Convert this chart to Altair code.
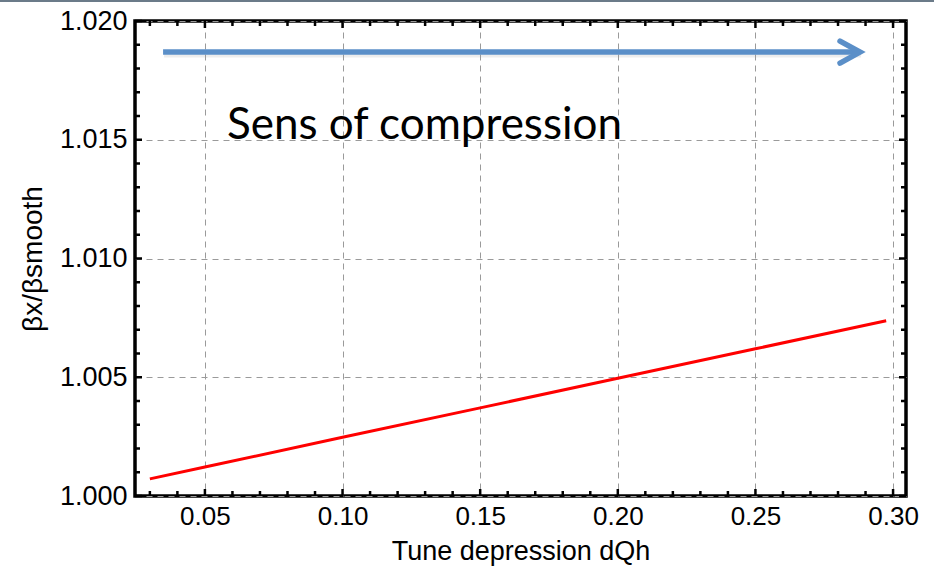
import altair as alt
import pandas as pd

# ---- data ----
dqh = [0.03, 0.05, 0.10, 0.15, 0.20, 0.25, 0.2975]
beta_ratio = [1.00072, 1.00122, 1.00247, 1.00371, 1.00496, 1.00620, 1.00738]

x_domain = [0.0246, 0.3047]
y_domain = [1.000, 1.020]

x_major = [0.05, 0.10, 0.15, 0.20, 0.25, 0.30]
x_minor = [0.03, 0.04, 0.06, 0.07, 0.08, 0.09, 0.11, 0.12, 0.13, 0.14,
           0.16, 0.17, 0.18, 0.19, 0.21, 0.22, 0.23, 0.24, 0.26, 0.27,
           0.28, 0.29]
y_major = [1.000, 1.005, 1.010, 1.015, 1.020]
y_minor = [1.001, 1.002, 1.003, 1.004, 1.006, 1.007, 1.008, 1.009,
           1.011, 1.012, 1.013, 1.014, 1.016, 1.017, 1.018, 1.019]

arrow_x = [0.0348, 0.2880]
arrow_y = [1.01869, 1.01869]

label_text = ["Sens of compression"]
label_x = [0.0580]
label_y = [1.01505]

W, H = 771, 475

# ---- shared scales / axes ----
xs = alt.Scale(domain=x_domain, nice=False, zero=False)
ys = alt.Scale(domain=y_domain, nice=False, zero=False)
xaxis = alt.Axis(values=x_major, format=".2f", grid=True, gridDash=[6, 5],
                 gridColor="#9a9a9a", gridWidth=1, ticks=False, domain=False,
                 labelPadding=7, titlePadding=9)
yaxis = alt.Axis(values=y_major, format=".3f", grid=True, gridDash=[6, 5],
                 gridColor="#9a9a9a", gridWidth=1, ticks=False, domain=False,
                 labelPadding=8, titlePadding=12)
XT = "Tune depression dQh"
YT = "βx/βsmooth"


def X(f):
    return alt.X(f, type="quantitative", scale=xs, axis=xaxis, title=XT)


def Y(f):
    return alt.Y(f, type="quantitative", scale=ys, axis=yaxis, title=YT)


curve_df = pd.DataFrame({"x": dqh, "y": beta_ratio})
curve = alt.Chart(curve_df).mark_line(color="#ff0000", strokeWidth=3).encode(
    x=X("x"), y=Y("y"))

# inward ticks
xmaj_df = pd.DataFrame({"x": x_major})
xmin_df = pd.DataFrame({"x": x_minor})
ymaj_df = pd.DataFrame({"y": y_major})
ymin_df = pd.DataFrame({"y": y_minor})

tick_layers = []
for df, ln in [(xmaj_df, 7), (xmin_df, 5)]:
    tick_layers.append(alt.Chart(df).mark_rule(color="black", strokeWidth=2.5).encode(
        x=X("x"), y=alt.value(H), y2=alt.value(H - ln)))
    tick_layers.append(alt.Chart(df).mark_rule(color="black", strokeWidth=2.5).encode(
        x=X("x"), y=alt.value(0), y2=alt.value(ln)))
for df, ln in [(ymaj_df, 7), (ymin_df, 5)]:
    tick_layers.append(alt.Chart(df).mark_rule(color="black", strokeWidth=2.5).encode(
        y=Y("y"), x=alt.value(0), x2=alt.value(ln)))
    tick_layers.append(alt.Chart(df).mark_rule(color="black", strokeWidth=2.5).encode(
        y=Y("y"), x=alt.value(W), x2=alt.value(W - ln)))

# arrow annotation
arrow_df = pd.DataFrame({"x": arrow_x, "y": arrow_y})
arrow_shadow = alt.Chart(arrow_df).mark_line(
    color="#9a9a9a", strokeWidth=6, opacity=0.18, yOffset=2.5, xOffset=1).encode(
    x=X("x"), y=Y("y"))
arrow_line = alt.Chart(arrow_df).mark_line(
    color="#5b8fc8", strokeWidth=5.5).encode(x=X("x"), y=Y("y"))
head_df = pd.DataFrame({"x": arrow_x[1:], "y": arrow_y[1:]})
arrow_head = alt.Chart(head_df).mark_point(
    shape="M-1,-0.55L0,0L-1,0.55", filled=False, color="#5b8fc8",
    strokeWidth=5.5, size=1600, opacity=1, strokeJoin="miter",
    strokeCap="round").encode(x=X("x"), y=Y("y"))

label_df = pd.DataFrame({"x": label_x, "y": label_y, "t": label_text})
label = alt.Chart(label_df).mark_text(
    align="left", baseline="alphabetic", font="Lato", fontSize=44,
    color="black").encode(x=X("x"), y=Y("y"), text="t:N")

# slide header line at the very top
header = alt.Chart(pd.DataFrame({"a": [0]})).mark_rule(
    color="#6b7b89", strokeWidth=2).encode(
    x=alt.value(-135), x2=alt.value(W + 28), y=alt.value(-20))

chart = alt.layer(
    *tick_layers, curve, arrow_shadow, arrow_line, arrow_head, label, header
).properties(
    width=W, height=H, autosize="none",
    padding={"left": 135, "top": 21, "right": 28, "bottom": 77},
    background="white",
).configure_view(
    stroke="black", strokeWidth=3.5
).configure_axis(
    labelFont="Liberation Sans", labelColor="black",
    titleFont="Liberation Sans", titleColor="black",
    titleFontWeight="normal",
).configure_axisX(
    labelFontSize=26, titleFontSize=27,
).configure_axisY(
    labelFontSize=27, titleFontSize=28,
)

chart.save("out.html", embed_options={"renderer": "svg", "actions": False})
